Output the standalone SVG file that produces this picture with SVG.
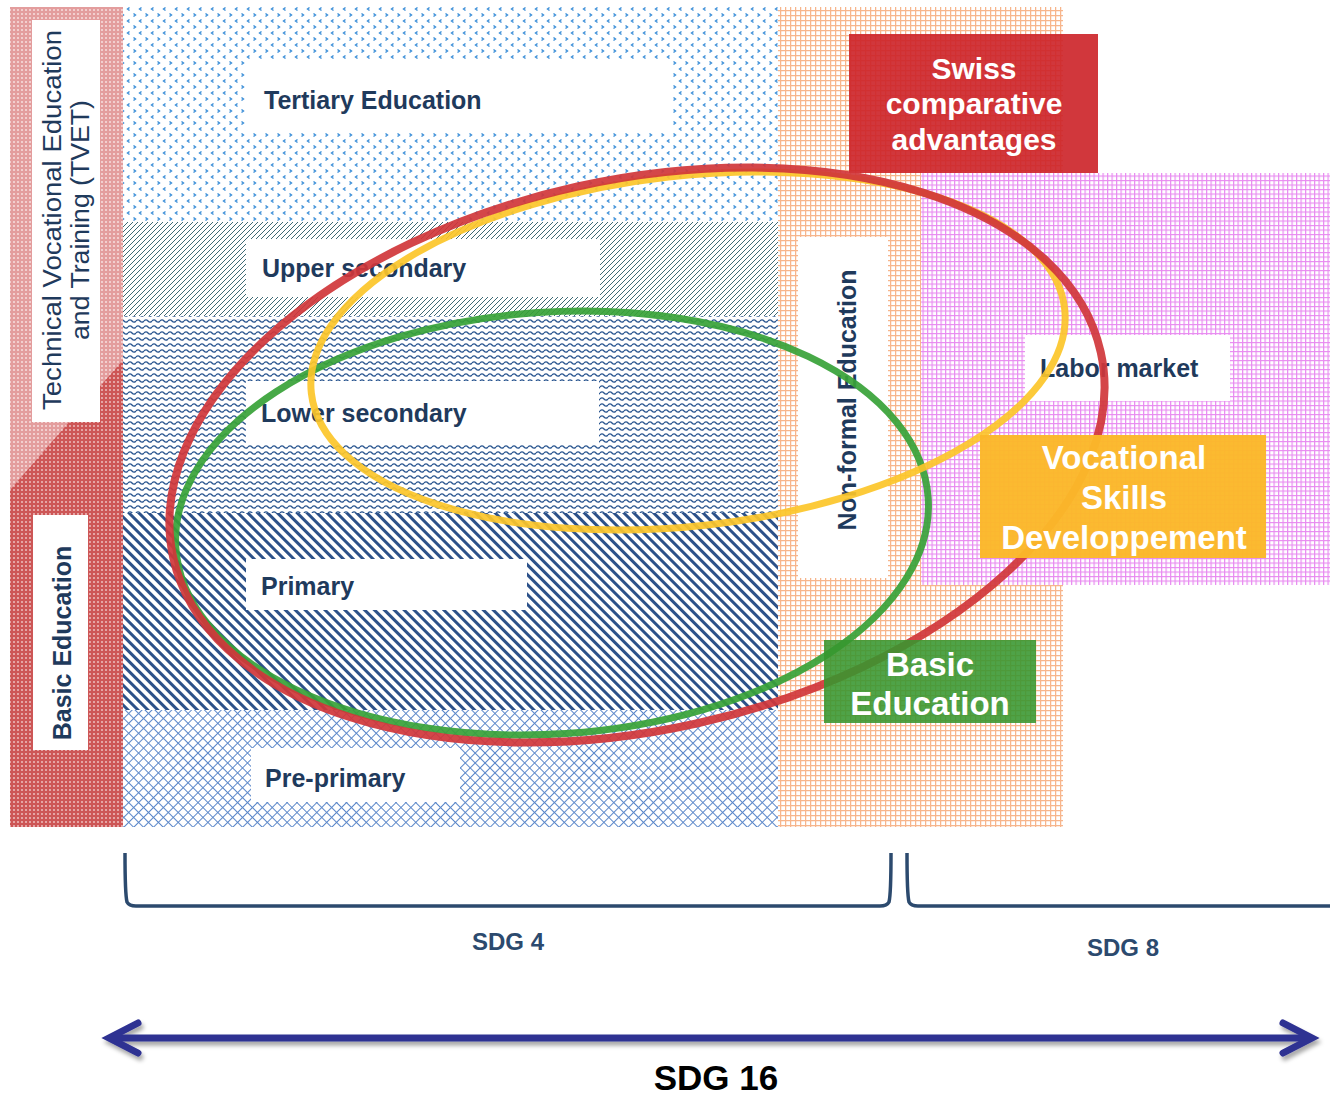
<svg xmlns="http://www.w3.org/2000/svg" width="1330" height="1098" viewBox="0 0 1330 1098">
<defs>
<pattern id="pRedLight" width="4" height="4" patternUnits="userSpaceOnUse"><rect width="4" height="4" fill="#e39d9d"/><rect x="1.2" y="1.2" width="1.6" height="1.6" fill="#fbeaea"/></pattern>
<pattern id="pRedDark" width="4" height="4" patternUnits="userSpaceOnUse"><rect width="4" height="4" fill="#cd5656"/><rect x="1.2" y="1.2" width="1.6" height="1.6" fill="#f3d0d0"/></pattern>
<pattern id="pTert" width="12" height="12" patternUnits="userSpaceOnUse"><rect width="12" height="12" fill="#fff"/><path d="M1.5,1.5 L3.5,3 L1.5,4.5" stroke="#3a8ed8" stroke-width="1.4" fill="none"/><path d="M9.5,7.5 L7.5,9 L9.5,10.5" stroke="#3a8ed8" stroke-width="1.4" fill="none"/></pattern>
<pattern id="pUpper" width="5" height="5" patternUnits="userSpaceOnUse"><rect width="5" height="5" fill="#fff"/><path d="M-1,1 L1,-1 M0,5 L5,0 M4,6 L6,4" stroke="#3e6a74" stroke-width="1"/></pattern>
<pattern id="pWave" width="8" height="6" patternUnits="userSpaceOnUse"><rect width="8" height="6" fill="#fff"/><path d="M0,3 Q2,0.6 4,3 T8,3" stroke="#2a5690" stroke-width="1.3" fill="none"/></pattern>
<pattern id="pPrim" width="7" height="7" patternUnits="userSpaceOnUse" patternTransform="rotate(-45)"><rect width="7" height="7" fill="#fff"/><rect width="3" height="7" fill="#2c5189"/></pattern>
<pattern id="pPre" width="7" height="7" patternUnits="userSpaceOnUse" patternTransform="rotate(45)"><rect width="7" height="7" fill="#fff"/><path d="M0,0.5 H7 M0.5,0 V7" stroke="#5b87c9" stroke-width="1"/></pattern>
<pattern id="pOrange" width="5" height="5" patternUnits="userSpaceOnUse"><rect width="5" height="5" fill="#fff"/><path d="M0,0.6 H5 M0.6,0 V5" stroke="#f7b58b" stroke-width="1.3"/></pattern>
<pattern id="pPink" width="4.5" height="4.5" patternUnits="userSpaceOnUse"><rect width="4.5" height="4.5" fill="#fff"/><path d="M0,0.6 H4.5 M0.6,0 V4.5" stroke="#e88bf0" stroke-width="1.2"/></pattern>
<filter id="shadow" x="-5%" y="-50%" width="110%" height="200%"><feDropShadow dx="2" dy="4" stdDeviation="2" flood-color="#000" flood-opacity="0.35"/></filter>
</defs>
<style>
.lbl{font-family:"Liberation Sans",Arial,sans-serif;font-weight:bold;font-size:25px;fill:#1f3a5c}
.box{fill:#fff}
.big{font-family:"Liberation Sans",Arial,sans-serif;font-weight:bold;fill:#fff;text-anchor:middle}
.sdg{font-family:"Liberation Sans",Arial,sans-serif;font-weight:bold;font-size:24px;fill:#2c4a6e;text-anchor:middle}
.brk{fill:none;stroke:#2c4a6e;stroke-width:3.5;stroke-linejoin:round}
.ell{fill:none}
</style>
<rect width="1330" height="1098" fill="#fff"/>

<g id="tvet-column">
<rect x="10" y="7" width="113" height="820" fill="url(#pRedLight)"/>
<polygon points="10,490 123,360 123,827 10,827" fill="url(#pRedDark)"/>
</g>
<g id="tvet-label">
<rect class="box" x="32" y="20" width="68" height="402"/>
<text class="lbl" style="font-weight:normal" transform="translate(61,220) rotate(-90)" text-anchor="middle" textLength="380" lengthAdjust="spacingAndGlyphs">Technical Vocational Education</text>
<text class="lbl" style="font-weight:normal" transform="translate(89,220) rotate(-90)" text-anchor="middle" textLength="240" lengthAdjust="spacingAndGlyphs">and Training (TVET)</text>
</g>
<g id="basic-education-side">
<rect class="box" x="33" y="515" width="55" height="235"/>
<text class="lbl" transform="translate(71,643) rotate(-90)" text-anchor="middle">Basic Education</text>
</g>

<g id="tertiary">
<rect x="123" y="7" width="655" height="215" fill="url(#pTert)"/>
<rect class="box" x="245" y="61" width="427" height="70"/>
<text class="lbl" x="264" y="109">Tertiary Education</text>
</g>
<g id="upper-secondary">
<rect x="123" y="222" width="655" height="94" fill="url(#pUpper)"/>
<rect class="box" x="246" y="239" width="354" height="58"/>
<text class="lbl" x="262" y="277">Upper secondary</text>
</g>
<g id="lower-secondary">
<rect x="123" y="316" width="655" height="197" fill="url(#pWave)"/>
<rect class="box" x="246" y="381" width="353" height="62"/>
<text class="lbl" x="261" y="422">Lower secondary</text>
</g>
<g id="primary">
<rect x="123" y="513" width="655" height="197" fill="url(#pPrim)"/>
<rect class="box" x="246" y="559" width="281" height="51"/>
<text class="lbl" x="261" y="595">Primary</text>
</g>
<g id="pre-primary">
<rect x="123" y="710" width="655" height="117" fill="url(#pPre)"/>
<rect class="box" x="251" y="748" width="209" height="54"/>
<text class="lbl" x="265" y="787">Pre-primary</text>
</g>

<g id="non-formal">
<rect x="778" y="7" width="285" height="820" fill="url(#pOrange)"/>
<rect class="box" x="798" y="237" width="90" height="341"/>
<text class="lbl" transform="translate(856,400) rotate(-90)" text-anchor="middle">Non-formal Education</text>
</g>
<g id="labor-market">
<rect x="921" y="173" width="409" height="412" fill="url(#pPink)"/>
<rect class="box" x="1025" y="335" width="205" height="66"/>
<text class="lbl" x="1040" y="377">Labor market</text>
</g>

<g id="swiss">
<rect x="849" y="34" width="249" height="139" fill="#cc2127" opacity="0.9"/>
<text class="big" font-size="30" x="974" y="79">Swiss</text>
<text class="big" font-size="30" x="974" y="114">comparative</text>
<text class="big" font-size="30" x="974" y="150">advantages</text>
</g>

<g id="ellipses">
<ellipse class="ell" cx="552" cy="523" rx="377" ry="211" transform="rotate(-3.8 552 523)" stroke="#37a237" stroke-width="7" opacity="0.92"/>
<ellipse class="ell" cx="688" cy="351" rx="379" ry="175" transform="rotate(-6.4 688 351)" stroke="#fcc629" stroke-width="7" opacity="0.92"/>
<ellipse class="ell" cx="637" cy="455" rx="475" ry="275" transform="rotate(-12.5 637 455)" stroke="#d0363a" stroke-width="8" opacity="0.92"/>
</g>

<g id="vsd">
<rect x="980" y="435" width="286" height="123" fill="#fbb829" opacity="0.97"/>
<text class="big" font-size="33" x="1124" y="469">Vocational</text>
<text class="big" font-size="33" x="1124" y="509">Skills</text>
<text class="big" font-size="33" x="1124" y="549">Developpement</text>
</g>
<g id="basic-education-box">
<rect x="824" y="640" width="212" height="83" fill="#37962f" opacity="0.88"/>
<text class="big" font-size="33" x="930" y="676">Basic</text>
<text class="big" font-size="33" x="930" y="715">Education</text>
</g>

<g id="connectors">
<path class="brk" d="M125,853 C125,880 126,898 127,902 Q129,906 136,906 L880,906 Q887,906 889,902 C890,898 891,880 891,853"/>
<path class="brk" d="M907,853 C907,880 908,898 909,902 Q911,906 918,906 L1330,906"/>
<g filter="url(#shadow)" stroke="#2e3192" stroke-width="7" fill="none" stroke-linecap="round">
<line x1="112" y1="1038" x2="1308" y2="1038"/>
<polyline points="138,1023 109,1038 138,1053" stroke-linejoin="miter"/>
<polyline points="1283,1023 1312,1038 1283,1053" stroke-linejoin="miter"/>
</g>
</g>
<g id="sdg-labels">
<text class="sdg" x="508" y="950">SDG 4</text>
<text class="sdg" x="1123" y="956">SDG 8</text>
<text x="716" y="1090" font-family="Liberation Sans, Arial, sans-serif" font-weight="bold" font-size="35" fill="#000" text-anchor="middle">SDG 16</text>
</g>
</svg>
